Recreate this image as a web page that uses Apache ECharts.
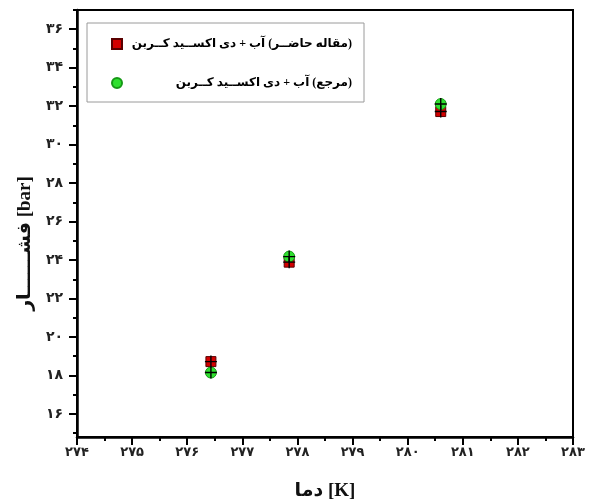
<!doctype html>
<html>
    <head>
        <meta charset="utf-8">
        <title>Pressure vs temperature</title>
        <style>
            html, body { margin: 0; padding: 0; background: #fff; }
            #main { width: 593px; height: 503px; }
        </style>
    </head>
    <body>
        <div id="main"></div>
        <script src="https://cdn.jsdelivr.net/npm/echarts@6/dist/echarts.min.js"></script>
        <script>
            // temperature [K] of each measured point
            var temps = [276.43, 277.85, 280.60];
            // pressure [bar], this paper (red squares)
            var presentP = [18.72, 23.89, 31.72];
            // pressure [bar], reference (green circles)
            var refP = [18.15, 24.18, 32.11];

            var xTicks = [274, 275, 276, 277, 278, 279, 280, 281, 282, 283];
            var yTicks = [16, 18, 20, 22, 24, 26, 28, 30, 32, 34, 36];
            var yMinorTicks = [15, 17, 19, 21, 23, 25, 27, 29, 31, 33, 35, 37];

            var nameA = '(مقاله حاضــر) آب + دی اکســید کــربن';
            var nameB = '(مرجع) آب + دی اکســید کــربن';

            var FONT = "'Liberation Serif', 'DejaVu Sans', serif";
            var LEG_FONT = 12;
            var LEG_W = 225;

            function fa(v) {
                return String(v).replace(/[0-9]/g, function (d) {
                    return '۰۱۲۳۴۵۶۷۸۹'.charAt(+d);
                });
            }
            function pairs(xs, ys) {
                return xs.map(function (x, i) { return [x, ys[i]]; });
            }

            var plus = 'path://M0,5.3H12V6.7H0Z M5.3,0H6.7V12H5.3Z';

            var chart = echarts.init(document.getElementById('main'));

            chart.setOption({
                animation: false,
                grid: {
                    left: 77, right: 20, top: 10, bottom: 66,
                    outerBoundsMode: 'none',
                    show: true,
                    borderColor: '#000',
                    borderWidth: 2
                },
                legend: {
                    data: [nameA, nameB],
                    orient: 'vertical',
                    left: 87,
                    top: 23,
                    padding: [15, 12, 13, 24],
                    itemGap: 27,
                    itemWidth: 10,
                    itemHeight: 10,
                    borderColor: '#9a9a9a',
                    borderWidth: 1,
                    selectedMode: false,
                    formatter: function (name) {
                        // wrap in RLM so the line is laid out right to left
                        return '{w|\u200F' + name + '\u200F}';
                    },
                    textStyle: {
                        rich: {
                            w: {
                                width: LEG_W,
                                align: 'right',
                                lineHeight: 16,
                                fontSize: LEG_FONT,
                                fontWeight: 'bold',
                                color: '#000',
                                fontFamily: FONT
                            }
                        }
                    }
                },
                xAxis: {
                    type: 'value',
                    min: 274,
                    max: 283,
                    interval: 1,
                    name: 'دما [K]',
                    nameLocation: 'middle',
                    nameGap: 45,
                    nameTextStyle: {
                        fontSize: 19, fontWeight: 'bold', color: '#111', fontFamily: FONT
                    },
                    axisLine: { lineStyle: { color: '#000', width: 2.5 } },
                    axisTick: {
                        length: 8,
                        lineStyle: { color: '#000', width: 2 },
                        customValues: xTicks
                    },
                    minorTick: {
                        show: true,
                        splitNumber: 2,
                        length: 4,
                        lineStyle: { color: '#000', width: 2 }
                    },
                    axisLabel: {
                        customValues: xTicks,
                        margin: 9,
                        fontSize: 13,
                        fontWeight: 'bold',
                        color: '#222',
                        fontFamily: FONT,
                        formatter: fa
                    },
                    splitLine: { show: false }
                },
                yAxis: [{
                    type: 'value',
                    min: 14.8,
                    max: 37,
                    name: 'فشــــــار [bar]',
                    nameLocation: 'middle',
                    nameGap: 33,
                    nameRotate: 90,
                    nameTextStyle: {
                        fontSize: 19, fontWeight: 'bold', color: '#111', fontFamily: FONT,
                        padding: [0, 40, 0, 0]
                    },
                    axisLine: { lineStyle: { color: '#000', width: 2.5 } },
                    axisTick: {
                        length: 8,
                        lineStyle: { color: '#000', width: 2 },
                        customValues: yTicks
                    },
                    axisLabel: {
                        customValues: yTicks,
                        margin: 14,
                        fontSize: 14,
                        fontWeight: 'bold',
                        color: '#222',
                        fontFamily: FONT,
                        formatter: fa
                    },
                    splitLine: { show: false }
                }, {
                    type: 'value',
                    position: 'left',
                    min: 14.8,
                    max: 37,
                    axisLine: { show: false },
                    axisTick: {
                        show: true,
                        length: 4,
                        lineStyle: { color: '#000', width: 2 },
                        customValues: yMinorTicks
                    },
                    axisLabel: { show: false },
                    splitLine: { show: false }
                }],
                series: [{
                    name: nameA,
                    type: 'scatter',
                    symbol: 'rect',
                    symbolSize: 10,
                    itemStyle: { color: '#d40000', borderColor: '#5a0000', borderWidth: 1, opacity: 1 },
                    data: pairs(temps, presentP)
                }, {
                    name: nameB,
                    type: 'scatter',
                    symbol: 'circle',
                    symbolSize: 11,
                    itemStyle: { color: '#2fe02f', borderColor: '#169916', borderWidth: 1, opacity: 1 },
                    data: pairs(temps, refP)
                }, {
                    name: 'crossA',
                    type: 'scatter',
                    symbol: plus,
                    symbolSize: 12,
                    silent: true,
                    itemStyle: { color: '#000', opacity: 1 },
                    data: pairs(temps, presentP)
                }, {
                    name: 'crossB',
                    type: 'scatter',
                    symbol: plus,
                    symbolSize: 12,
                    silent: true,
                    itemStyle: { color: '#000', opacity: 1 },
                    data: pairs(temps, refP)
                }]
            });
        </script>
    </body>
</html>
